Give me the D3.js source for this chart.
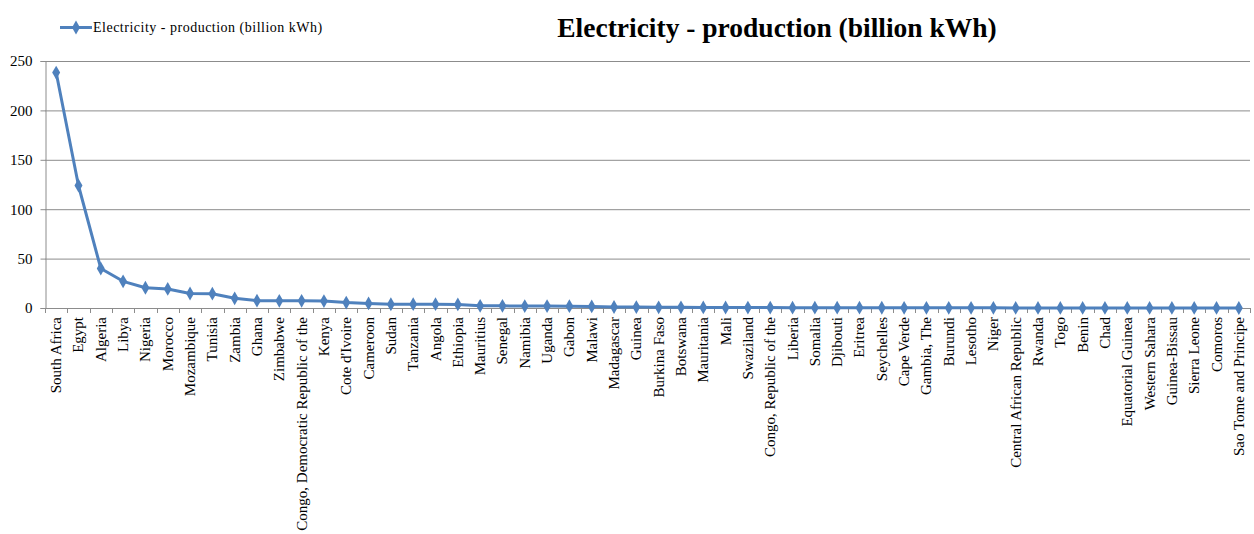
<!DOCTYPE html>
<html><head><meta charset="utf-8">
<script src="https://cdn.jsdelivr.net/npm/d3@7"></script>
<style>body{margin:0;background:#fff;} svg{display:block;}</style>
</head><body>
<svg id="chart" width="1254" height="534"></svg>
<script>
const categories = ["South Africa","Egypt","Algeria","Libya","Nigeria","Morocco","Mozambique","Tunisia","Zambia","Ghana","Zimbabwe","Congo, Democratic Republic of the","Kenya","Cote d'Ivoire","Cameroon","Sudan","Tanzania","Angola","Ethiopia","Mauritius","Senegal","Namibia","Uganda","Gabon","Malawi","Madagascar","Guinea","Burkina Faso","Botswana","Mauritania","Mali","Swaziland","Congo, Republic of the","Liberia","Somalia","Djibouti","Eritrea","Seychelles","Cape Verde","Gambia, The","Burundi","Lesotho","Niger","Central African Republic","Rwanda","Togo","Benin","Chad","Equatorial Guinea","Western Sahara","Guinea-Bissau","Sierra Leone","Comoros","Sao Tome and Principe"];
const values = [238.3,124,40,27,20.5,19.3,14.7,14.5,9.8,7.4,7.3,7.3,7.0,5.5,4.6,3.8,3.9,3.9,3.6,2.2,2.2,1.9,1.9,1.8,1.6,1.0,0.9,0.7,0.7,0.6,0.5,0.4,0.4,0.3,0.3,0.3,0.3,0.25,0.2,0.15,0.15,0.15,0.15,0.1,0.1,0.1,0.1,0.1,0.1,0.09,0.06,0.05,0.04,0.02];
const yTicks = [0,50,100,150,200,250];
const seriesName = "Electricity - production (billion kWh)";
const title = "Electricity - production (billion kWh)";

const svg = d3.select("#chart");
const m = {left:45, right:1250, top:61, bottom:308};
const x = d3.scaleBand().domain(categories).range([m.left, m.right]);
const y = d3.scaleLinear().domain([0,250]).range([m.bottom, m.top]);
const color = "#4F81BD";
const font = "'Liberation Serif','Times New Roman',serif";

// gridlines
svg.append("g").selectAll("line").data(yTicks.filter(d=>d>0)).join("line")
  .attr("x1", m.left).attr("x2", m.right)
  .attr("y1", d=>y(d)+0.5).attr("y2", d=>y(d)+0.5)
  .attr("stroke", "#8c8c8c").attr("stroke-width", 1);

// y axis
const ya = svg.append("g").attr("transform", `translate(${m.left+0.5},0)`)
  .call(d3.axisLeft(y).tickValues(yTicks).tickSize(5).tickPadding(8));
ya.attr("font-family", font);
ya.select(".domain").attr("stroke", "#8c8c8c");
ya.selectAll(".tick line").attr("stroke", "#8c8c8c");
ya.selectAll("text").attr("font-family", font).attr("font-size", 15).attr("fill", "#000");

// x axis baseline + ticks between categories
const xg = svg.append("g");
xg.append("line").attr("x1", m.left).attr("x2", m.right).attr("y1", m.bottom+0.5).attr("y2", m.bottom+0.5).attr("stroke", "#8c8c8c");
const bounds = categories.map(c=>x(c)).concat([m.right]);
xg.selectAll("line.tk").data(bounds).join("line").attr("class","tk")
  .attr("x1", d=>Math.round(d)+0.5).attr("x2", d=>Math.round(d)+0.5)
  .attr("y1", m.bottom).attr("y2", m.bottom+5).attr("stroke", "#8c8c8c");
xg.selectAll("text").data(categories).join("text")
  .attr("transform", d=>`translate(${x(d)+x.bandwidth()/2+5},${m.bottom+9}) rotate(-90)`)
  .attr("text-anchor", "end")
  .attr("font-family", font).attr("font-size", 15).attr("fill", "#000")
  .text(d=>d);

// line
const cx = d=>x(d)+x.bandwidth()/2;
svg.append("path").datum(categories)
  .attr("fill", "none").attr("stroke", color).attr("stroke-width", 3).attr("stroke-linejoin","round")
  .attr("d", d3.line().x(d=>cx(d)).y((d,i)=>y(values[i])));
const diamond = d3.symbol().type(d3.symbolDiamond).size(55);
svg.append("g").selectAll("path").data(categories).join("path")
  .attr("d", diamond)
  .attr("transform", (d,i)=>`translate(${cx(d)},${y(values[i])})`)
  .attr("fill", color);

// legend
const lg = svg.append("g");
lg.append("line").attr("x1", 60).attr("x2", 92).attr("y1", 27.5).attr("y2", 27.5).attr("stroke", color).attr("stroke-width", 3);
lg.append("path").attr("d", diamond).attr("transform", "translate(76,27.5)").attr("fill", color);
lg.append("text").attr("x", 93).attr("y", 32).attr("font-family", font).attr("font-size", 14).attr("letter-spacing", "0.5px").attr("fill","#000").text(seriesName);

// title
svg.append("text").attr("x", 777).attr("y", 37).attr("text-anchor","middle")
  .attr("font-family", font).attr("font-size", 27.5).attr("font-weight","bold").attr("fill","#000").text(title);
</script>
</body></html>
